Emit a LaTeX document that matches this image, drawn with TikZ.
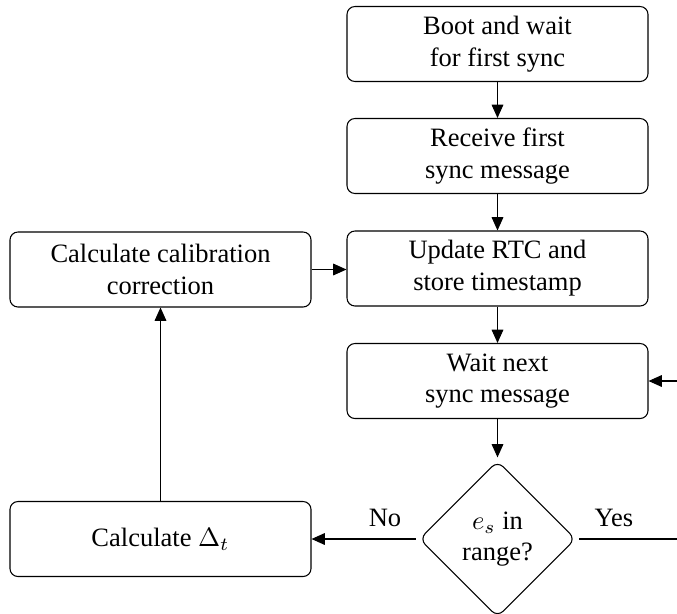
\documentclass[tikz,border=0pt]{standalone}
\usepackage{fontspec}
\setmainfont{Liberation Serif}
\usetikzlibrary{arrows.meta,shapes.geometric}
\begin{document}
\begin{tikzpicture}[x=0.3774pt,y=-0.3774pt,
  box/.style={draw, rounded corners=3pt, minimum width=113.6pt, minimum height=28.3pt, align=center, inner sep=2pt},
  dec/.style={draw, diamond, rounded corners=3pt, minimum width=59.6pt, minimum height=59.6pt, inner sep=0pt, outer sep=1pt, align=center},
  arr/.style={-{Triangle[length=5pt,width=4.4pt]}},
  lbl/.style={inner sep=0pt}]
\useasboundingbox (0,0) rectangle (677,613);
\clip (0,0) rectangle (677,613);
\node[box] (boot) at (497.5,44) {Boot and wait\\for first sync};
\node[box] (recv) at (497.5,156) {Receive first\\sync message};
\node[box] (upd) at (497.5,268.5) {Update RTC and\\store timestamp};
\node[box] (wait) at (497.5,381) {Wait next\\sync message};
\node[dec] (dec) at (497.5,539) {$e_s$ in\\range?};
\node[box] (cal) at (160.5,269.5) {Calculate calibration\\correction};
\node[box] (dt) at (160.5,539) {Calculate $\Delta_t$};
\coordinate (yesend) at (677,539);
\coordinate (loopin) at (677,381);
\draw[arr] (boot) -- (recv);
\draw[arr] (recv) -- (upd);
\draw[arr] (upd) -- (wait);
\draw[arr] (wait) -- (dec);
\draw[arr] (dec.west) -- (dt.east);
\draw (dec.east) -- (yesend);
\draw[arr] (loopin) -- (wait.east);
\draw[arr] (dt) -- (cal);
\draw[arr] (cal.east) -- (cal.east -| upd.west);
\node[lbl] (no) at (385,518) {No};
\node[lbl] (yes) at (614,518) {Yes};
\end{tikzpicture}
\end{document}
